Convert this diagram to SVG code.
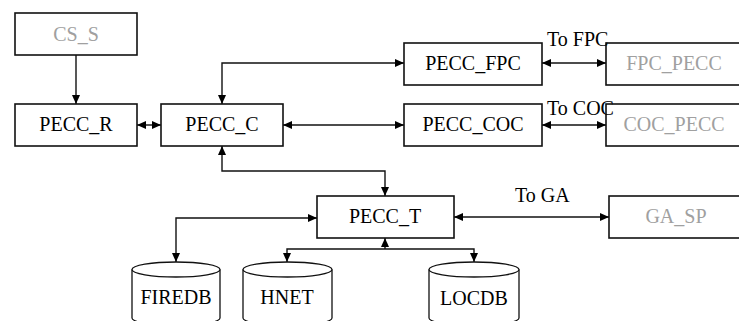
<svg xmlns="http://www.w3.org/2000/svg" width="739" height="321" viewBox="0 0 739 321">
<defs>
<marker id="ah" viewBox="0 0 9 8" refX="9" refY="4" markerWidth="9" markerHeight="8" markerUnits="userSpaceOnUse" orient="auto-start-reverse">
<path d="M0,0 L9,4 L0,8 Z" fill="#000"/>
</marker>
</defs>
<style>
.box{fill:#fff;stroke:#111;stroke-width:1.6}
.db{fill:#fff;stroke:#111;stroke-width:1.3}
.t{font-family:"Liberation Serif","Times New Roman",serif;font-size:20px;fill:#000;text-anchor:middle}
.g{fill:#a0a0a0}
.l{font-family:"Liberation Serif","Times New Roman",serif;font-size:20px;fill:#000}
.c1,.c2{fill:none;stroke:#111;stroke-width:1.4}
.c2{marker-start:url(#ah);marker-end:url(#ah)}
.c1{marker-end:url(#ah)}
</style>
<rect width="739" height="321" fill="#fff"/>
<g id="connectors">
<path class="c1" d="M76,55 V104"/>
<path class="c2" d="M137,125 H161"/>
<path class="c2" d="M222,104 V63 H404"/>
<path class="c2" d="M283,125 H404"/>
<path class="c2" d="M542,63 H606"/>
<path class="c2" d="M542,125 H606"/>
<path class="c2" d="M222,146 V171 H385 V196"/>
<path class="c2" d="M317,218 H176 V262"/>
<path class="c2" d="M454,217 H609"/>
<path class="c1" d="M385,249 V238"/>
<path class="c1" d="M385,249 H287 V262"/>
<path class="c1" d="M385,249 H474 V262"/>
</g>
<g id="CS_S"><rect class="box" x="15" y="13" width="122" height="42"/><text class="t g" x="76" y="41">CS_S</text></g>
<g id="PECC_R"><rect class="box" x="15" y="104" width="122" height="42"/><text class="t" x="76" y="131">PECC_R</text></g>
<g id="PECC_C"><rect class="box" x="161" y="104" width="122" height="42"/><text class="t" x="222" y="131">PECC_C</text></g>
<g id="PECC_FPC"><rect class="box" x="404" y="43" width="138" height="42"/><text class="t" x="473" y="70">PECC_FPC</text></g>
<g id="PECC_COC"><rect class="box" x="404" y="104" width="138" height="42"/><text class="t" x="473" y="131">PECC_COC</text></g>
<g id="FPC_PECC"><rect class="box" x="606" y="43" width="140" height="42"/><text class="t g" x="674" y="70">FPC_PECC</text></g>
<g id="COC_PECC"><rect class="box" x="606" y="104" width="140" height="42"/><text class="t g" x="674" y="131">COC_PECC</text></g>
<g id="PECC_T"><rect class="box" x="317" y="196" width="137" height="42"/><text class="t" x="385" y="223">PECC_T</text></g>
<g id="GA_SP"><rect class="box" x="609" y="196" width="140" height="42"/><text class="t g" x="676" y="223">GA_SP</text></g>
<g id="FIREDB"><path class="db" d="M132,269.5 V318 A44,7.5 0 0 0 220,318 V269.5"/><ellipse class="db" cx="176" cy="269.5" rx="44" ry="7.5"/><text class="t" x="176" y="304">FIREDB</text></g>
<g id="HNET"><path class="db" d="M243,269.5 V318 A44.5,7.5 0 0 0 332,318 V269.5"/><ellipse class="db" cx="287.5" cy="269.5" rx="44.5" ry="7.5"/><text class="t" x="287" y="304">HNET</text></g>
<g id="LOCDB"><path class="db" d="M429,269.5 V318 A45,7.5 0 0 0 519,318 V269.5"/><ellipse class="db" cx="474" cy="269.5" rx="45" ry="7.5"/><text class="t" x="474" y="305">LOCDB</text></g>
<text class="l" x="547" y="46">To FPC</text>
<text class="l" x="547" y="115">To COC</text>
<text class="l" x="515" y="202">To GA</text>
</svg>
